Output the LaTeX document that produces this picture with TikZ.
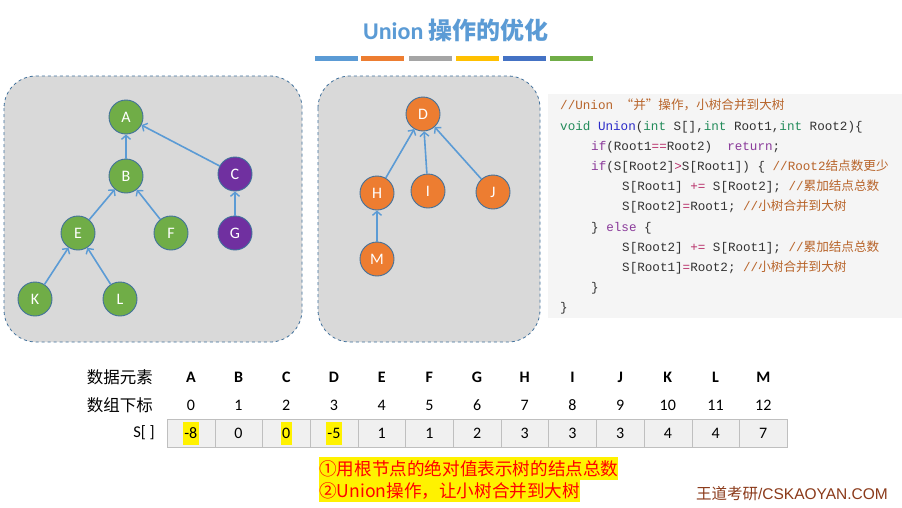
\documentclass[tikz,border=0pt]{standalone}
\usepackage{fontspec}
\setmainfont{Carlito}
\newfontfamily\cjk{Noto Sans CJK SC}
\newfontfamily\codefont{Liberation Mono}
\newfontfamily\arialfont{Liberation Sans}
\usetikzlibrary{arrows.meta}
\definecolor{ttlblue}{HTML}{5B9BD5}
\definecolor{bar1}{HTML}{5B9BD5}
\definecolor{bar2}{HTML}{ED7D31}
\definecolor{bar3}{HTML}{A5A5A5}
\definecolor{bar4}{HTML}{FFC000}
\definecolor{bar5}{HTML}{4472C4}
\definecolor{bar6}{HTML}{70AD47}
\definecolor{panelfill}{HTML}{D9D9D9}
\definecolor{paneledge}{HTML}{41719C}
\definecolor{ngreen}{HTML}{70AD47}
\definecolor{npurple}{HTML}{7030A0}
\definecolor{norange}{HTML}{ED7D31}
\definecolor{edgeblue}{HTML}{5B9BD5}
\definecolor{codebg}{HTML}{F5F5F5}
\definecolor{cmtc}{HTML}{B8642A}
\definecolor{kwc}{HTML}{228B5A}
\definecolor{fnc}{HTML}{2A2AC8}
\definecolor{kpc}{HTML}{8A3A9A}
\definecolor{opc}{HTML}{B8306A}
\definecolor{codetxt}{HTML}{333333}
\definecolor{cellfill}{HTML}{F0F0F0}
\definecolor{celledge}{HTML}{BFBFBF}
\definecolor{brandc}{HTML}{8B3A1A}
\newcommand{\cmt}[1]{\textcolor{cmtc}{#1}}
\newcommand{\zh}[1]{{\cjk #1}}
\newcommand{\kw}[1]{\textcolor{kwc}{#1}}
\newcommand{\fnn}[1]{\textcolor{fnc}{#1}}
\newcommand{\kp}[1]{\textcolor{kpc}{#1}}
\newcommand{\op}[1]{\textcolor{opc}{#1}}
\tikzset{
  panel/.style={draw=paneledge, dashed, fill=panelfill, rounded corners=32pt, line width=0.8pt},
  tnode/.style={circle, draw=paneledge, line width=0.9pt, minimum size=34pt, inner sep=0pt, text=white, font=\fontsize{16}{18}\selectfont},
  gnode/.style={tnode, fill=ngreen},
  pnode/.style={tnode, fill=npurple},
  onode/.style={tnode, fill=norange},
  link/.style={draw=edgeblue, line width=1.6pt, -{Straight Barb[length=4pt,width=9pt,line width=1.4pt]}},
  codeline/.style={anchor=base west, inner sep=0pt, text=codetxt, font=\codefont\fontsize{12.6}{14}\selectfont},
  bar/.style={minimum width=43pt, minimum height=5pt, inner sep=0pt},
  cell/.style={draw=celledge, fill=cellfill, minimum width=47.7pt, minimum height=28pt, inner sep=0pt},
  celltxt/.style={font=\fontsize{16}{18}\selectfont, inner sep=1pt},
  hl/.style={fill=yellow, minimum height=23pt, inner xsep=1.5pt},
  rowlab/.style={anchor=east, font=\cjk\fontsize{16.5}{18}\selectfont, inner sep=0pt},
  note/.style={anchor=west, fill=yellow, text=red, inner sep=0pt, minimum height=22.5pt, font=\cjk\fontsize{17.6}{19}\selectfont}
}
\begin{document}
\begin{tikzpicture}[x=1pt,y=-1pt]
\useasboundingbox (0,0) rectangle (902,507);
\fill[white] (0,0) rectangle (902,507);
% title
\node[text=ttlblue, font=\fontsize{24}{27}\selectfont\bfseries] (title) at (456,30) {Union \zh{操作的优化}};
\node[bar, fill=bar1] (b1) at (336,58.5) {};
\node[bar, fill=bar2] (b2) at (382.5,58.5) {};
\node[bar, fill=bar3] (b3) at (430.5,58.5) {};
\node[bar, fill=bar4] (b4) at (477.5,58.5) {};
\node[bar, fill=bar5] (b5) at (524,58.5) {};
\node[bar, fill=bar6] (b6) at (571.5,58.5) {};
% panels
\draw[panel] (4,76) rectangle (302,342);
\draw[panel] (318,76) rectangle (540,342);
% left tree
\node[gnode] (A) at (126,117) {A};
\node[gnode] (B) at (126,176) {B};
\node[pnode] (C) at (235,174) {C};
\node[gnode] (E) at (78,233) {E};
\node[gnode] (F) at (171,233) {F};
\node[pnode] (G) at (235,233) {G};
\node[gnode] (K) at (35,299) {K};
\node[gnode] (L) at (120,299) {L};
\draw[link] (B) -- (A);
\draw[link] (C) -- (A);
\draw[link] (E) -- (B);
\draw[link] (F) -- (B);
\draw[link] (G) -- (C);
\draw[link] (K) -- (E);
\draw[link] (L) -- (E);
% right tree
\node[onode] (D) at (423,114) {D};
\node[onode] (H) at (377,193) {H};
\node[onode] (I) at (428,191) {I};
\node[onode] (J) at (493,192) {J};
\node[onode] (M) at (377,259) {M};
\draw[link] (H) -- (D);
\draw[link] (I) -- (D);
\draw[link] (J) -- (D);
\draw[link] (M) -- (H);
% code
\fill[codebg] (548,94) rectangle (902,318);
\node[codeline] (c1) at (560,109.5) {\cmt{//Union \zh{“并”操作，小树合并到大树}}};
\node[codeline] (c2) at (560,130) {\kw{void} \fnn{Union}(\kw{int} S[],\kw{int} Root1,\kw{int} Root2)\{};
\node[codeline] (c3) at (591,150.5) {\kp{if}(Root1\op{==}Root2)~ \kp{return};};
\node[codeline] (c4) at (591,170.5) {\kp{if}(S[Root2]\op{>}S[Root1]) \{ \cmt{//Root2\zh{结点数更少}}};
\node[codeline] (c5) at (622,190.5) {S[Root1] \op{+=} S[Root2]; \cmt{//\zh{累加结点总数}}};
\node[codeline] (c6) at (622,210.5) {S[Root2]\op{=}Root1; \cmt{//\zh{小树合并到大树}}};
\node[codeline] (c7) at (591,231) {\} \kp{else} \{};
\node[codeline] (c8) at (622,251) {S[Root2] \op{+=} S[Root1]; \cmt{//\zh{累加结点总数}}};
\node[codeline] (c9) at (622,271) {S[Root1]\op{=}Root2; \cmt{//\zh{小树合并到大树}}};
\node[codeline] (c10) at (591,291) {\}};
\node[codeline] (c11) at (560,311.5) {\}};
% table
\node[rowlab] (r1) at (153,377) {数据元素};
\node[rowlab] (r2) at (153,405) {数组下标};
\node[anchor=east, font=\fontsize{16.5}{18}\selectfont, inner sep=0pt] (r3) at (155,433) {S[ ]};
\foreach \l [count=\i from 0] in {A,B,C,D,E,F,G,H,I,J,K,L,M} {
  \node[font=\fontsize{16}{18}\selectfont\bfseries] (h\i) at (190.85+47.7*\i,377) {\l};
  \node[font=\fontsize{16}{18}\selectfont] (x\i) at (190.85+47.7*\i,405) {\i};
  \node[cell] (cell\i) at (190.85+47.7*\i,433) {};
}
\foreach \v [count=\i from 0] in {-8,0,0,-5,1,1,2,3,3,3,4,4,7} {
  \ifnum\i=0 \node[celltxt, hl] (v\i) at (cell\i) {\v};
  \else\ifnum\i=2 \node[celltxt, hl] (v\i) at (cell\i) {\v};
  \else\ifnum\i=3 \node[celltxt, hl] (v\i) at (cell\i) {\v};
  \else \node[celltxt] (v\i) at (cell\i) {\v};
  \fi\fi\fi
}
% notes
\node[note] (n1) at (319,468.5) {①用根节点的绝对值表示树的结点总数};
\node[note] (n2) at (319,491) {②Union操作，让小树合并到大树};
\node[text=brandc, font=\fontsize{15.5}{17}\selectfont, inner sep=0pt] (brand) at (792,494) {\zh{王道考研}\arialfont/CSKAOYAN.COM};
\end{tikzpicture}
\end{document}
